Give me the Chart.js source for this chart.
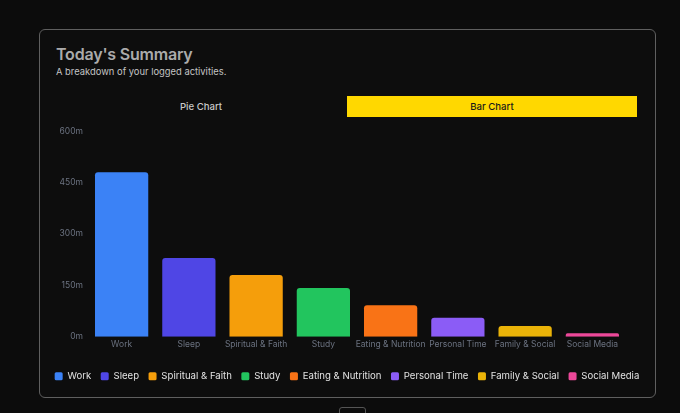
<!DOCTYPE html>
<html>
<head>
<meta charset="utf-8">
<script src="https://cdn.jsdelivr.net/npm/chart.js@4.4.0/dist/chart.umd.min.js"></script>
<style>
  html, body { margin: 0; padding: 0; background: #0c0c0c; width: 680px; height: 413px; overflow: hidden; font-family: Inter, "Noto Sans", sans-serif; }
  .card { position: absolute; left: 39px; top: 29px; width: 615px; height: 367px; border: 1px solid #5f5f5f; border-radius: 6px; background: #0d0d0d; }
  .title { position: absolute; left: 16px; top: 14px; font-size: 16px; letter-spacing: -0.2px; font-weight: 600; color: #ababab; }
  .sub { position: absolute; left: 16px; top: 36px; font-size: 9.4px; color: #c4c4c4; }
  .tab { position: absolute; top: 66px; height: 21px; line-height: 21px; text-align: center; font-size: 9.6px; font-weight: 500; }
  .tab.pie { left: 16px; width: 290px; color: #c8c8c8; }
  .tab.bar { left: 307px; width: 290px; background: #ffd800; color: #1a1a1a; }
  .chartbox { position: absolute; left: -13px; top: 91px; width: 640px; height: 270px; }
  .stub { position: absolute; left: 339px; top: 407px; width: 25px; height: 12px; border: 1px solid #555; border-radius: 3px; background: #0c0c0c; }
</style>
</head>
<body>
<div class="card">
  <div class="title">Today's Summary</div>
  <div class="sub">A breakdown of your logged activities.</div>
  <div class="tab pie">Pie Chart</div>
  <div class="tab bar">Bar Chart</div>
  <div class="chartbox"><canvas id="bar_chart"></canvas></div>
</div>
<div class="stub"></div>
<script>
// activity categories and minutes logged today
const categories = ["Work", "Sleep", "Spiritual & Faith", "Study", "Eating & Nutrition", "Personal Time", "Family & Social", "Social Media"]
const minutes = [480, 230, 180, 142, 92, 55, 31, 10]
const bar_colors = ["#3b82f6", "#4f46e5", "#f59e0b", "#22c55e", "#f97316", "#8b5cf6", "#eab308", "#ec4899"]
const y_ticks = [0, 150, 300, 450, 600]

const data_bar = {
  labels: categories,
  datasets: [{
    label: "Minutes",
    data: minutes,
    backgroundColor: bar_colors,
    borderRadius: { topLeft: 3, topRight: 3 },
    borderSkipped: "bottom",
    barPercentage: 0.9,
    categoryPercentage: 0.88
  }]
}

const bar_config = {
  type: "bar",
  data: data_bar,
  options: {
    responsive: true,
    maintainAspectRatio: false,
    animation: false,
    scales: {
      x: {
        grid: { display: false, drawTicks: false },
        border: { display: false },
        ticks: { color: "#6b7280", font: { family: "Inter", size: 8.5 }, maxRotation: 0, autoSkip: false, padding: 3 },
        afterFit: (axis) => { axis.height += 9 }
      },
      y: {
        min: 0,
        max: 600,
        grid: { display: false, drawTicks: false },
        border: { display: false },
        afterBuildTicks: (axis) => { axis.ticks = y_ticks.map(v => ({ value: v })) },
        afterFit: (axis) => { axis.width = 61 },
        ticks: { color: "#6b7280", font: { family: "Inter", size: 8.5 }, padding: 5, callback: (v) => v + "m" }
      },
      // empty axis on the right, only keeps the bars off the card edge
      y_right: {
        position: "right",
        grid: { display: false, drawTicks: false },
        border: { display: false },
        ticks: { display: false },
        afterFit: (axis) => { axis.width = 41 }
      }
    },
    plugins: {
      legend: {
        position: "bottom",
        labels: {
          color: "#e2e2e2",
          font: { family: "Inter", size: 9.6 },
          boxWidth: 8,
          boxHeight: 8,
          padding: 9.5,
          generateLabels: (chart) => categories.map((c, i) => ({
            text: c, fillStyle: bar_colors[i], strokeStyle: bar_colors[i], lineWidth: 0, borderRadius: 1.5, index: i, fontColor: "#e2e2e2"
          }))
        }
      },
      tooltip: { enabled: false }
    }
  }
}

const myBarChart = new Chart(document.getElementById("bar_chart"), bar_config)
</script>
</body>
</html>
